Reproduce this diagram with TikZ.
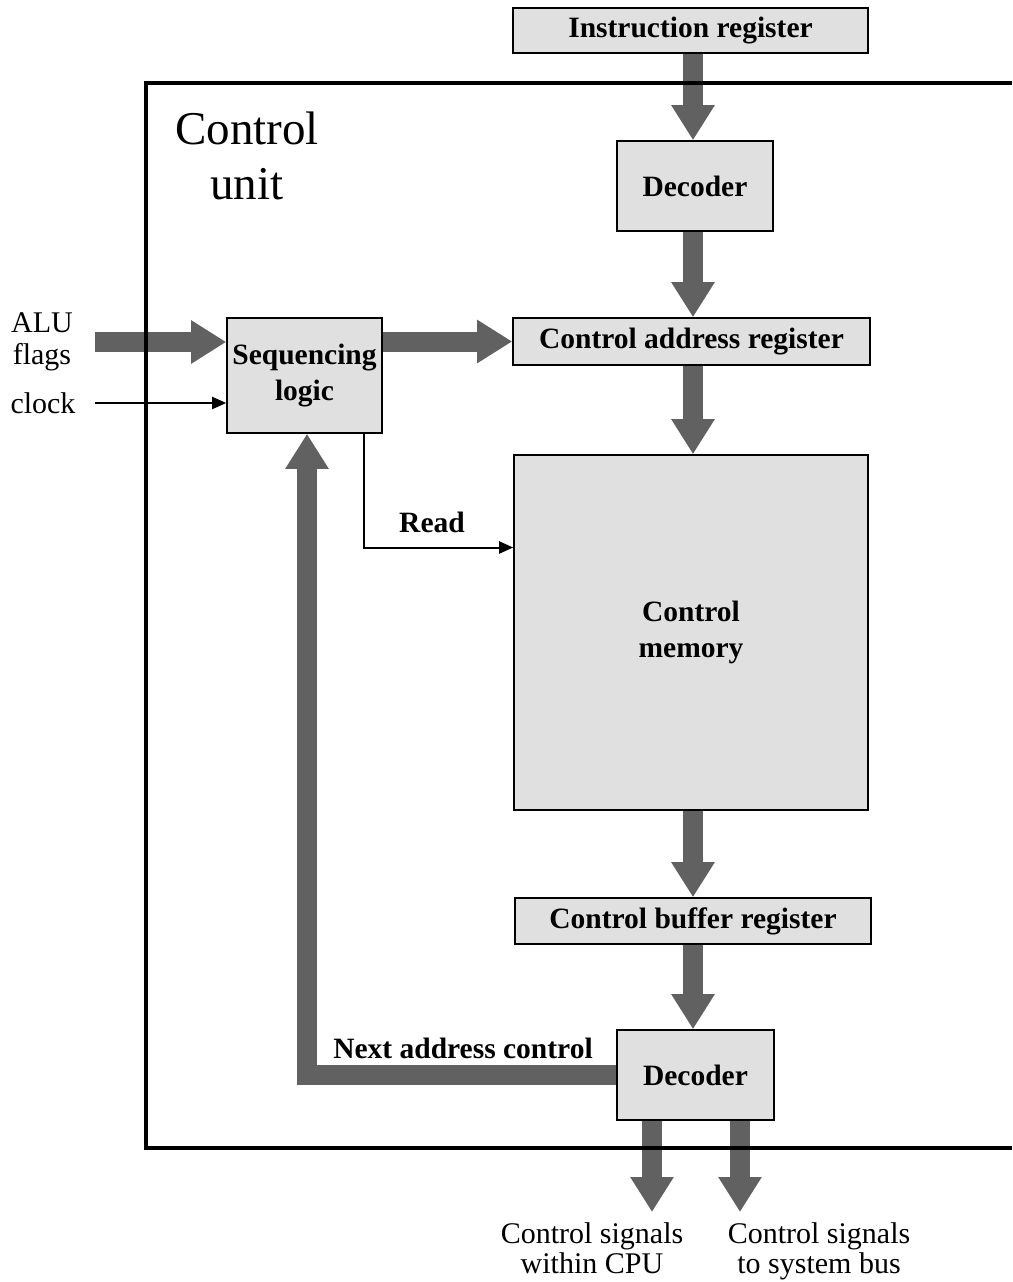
\documentclass[tikz,border=0pt]{standalone}
\usepackage{fontspec}
\setmainfont{Liberation Serif}
\usetikzlibrary{arrows.meta}

\tikzset{
  unitbox/.style={draw=black, line width=1.6pt, fill=black!12, inner sep=0pt,
    align=center, font=\fontsize{29.5}{36.5}\selectfont\bfseries},
  fat/.style={draw=black!62, line width=20pt,
    -{Triangle[width=41pt 0 0, length=35pt 0 0]}},
  thinarrow/.style={draw=black, line width=2pt,
    -{Triangle[width=12pt 0 0, length=14pt 0 0]}},
  outer/.style={align=center, font=\fontsize{30}{30.5}\selectfont},
  boldlabel/.style={font=\fontsize{29.5}{34}\selectfont\bfseries},
  frame/.style={draw=black, line width=4pt}
}

\begin{document}
\begin{tikzpicture}[x=1pt, y=-1pt]
\useasboundingbox (0,0) rectangle (1012,1282);

% blocks
\node[unitbox, minimum width=355pt, minimum height=45pt] (ir)  at (690.5,30.5) {Instruction register};
\node[unitbox, minimum width=156pt, minimum height=90pt] (dec1) at (695,186) {Decoder};
\node[unitbox, minimum width=357pt, minimum height=47pt] (car) at (691.5,341.5) {Control address register};
\node[unitbox, minimum width=155pt, minimum height=115pt] (seq) at (304.5,375.5) {Sequencing\\logic};
\node[unitbox, minimum width=354pt, minimum height=355pt] (cm)  at (691,632.5) {Control\\memory};
\node[unitbox, minimum width=356pt, minimum height=46pt] (cbr) at (693,921) {Control buffer register};
\node[unitbox, minimum width=157pt, minimum height=90pt] (dec2) at (695.5,1075) {Decoder};

% reference points
\coordinate (spine) at (693,0);
\coordinate (alu) at (95,342);
\coordinate (clk) at (95,403);
\coordinate (out1) at (652,1212);
\coordinate (out2) at (740,1212);

% wide data paths
\draw[fat] (ir.south -| spine) -- (dec1.north -| spine);
\draw[fat] (dec1.south -| spine) -- (car.north -| spine);
\draw[fat] (car.south -| spine) -- (cm.north -| spine);
\draw[fat] (cm.south -| spine) -- (cbr.north -| spine);
\draw[fat] (cbr.south -| spine) -- (dec2.north -| spine);
\draw[fat] (alu) -- (alu -| seq.west);
\draw[fat] (seq.east |- car.west) -- (car.west);
\draw[fat] (out1 |- dec2.south) -- (out1);
\draw[fat] (out2 |- dec2.south) -- (out2);
\draw[fat, line join=miter] (dec2.west) -| ([xshift=2.5pt]seq.south);

% control lines
\draw[thinarrow] (clk) -- (clk -| seq.west);
\draw[thinarrow] ([xshift=-19pt]seq.south east) |- ([yshift=85pt]cm.west);

% control unit boundary
\draw[frame] (1012,83) -- (146,83) -- (146,1148) -- (1012,1148);

% labels
\node[align=center, font=\fontsize{47}{55}\selectfont] (cu) at (247,156) {Control\\unit};
\node[outer] (alulbl) at (42,323) {ALU};
\node[outer] (flagslbl) at (42,357) {flags};
\node[outer] (clklbl) at (43,403) {clock};
\node[boldlabel] (readlbl) at (432,522) {Read};
\node[boldlabel] (nalbl) at (463,1048) {Next address control};
\node[outer, inner sep=1pt, anchor=north] (sig1) at (592,1221) {Control signals\\within CPU};
\node[outer, inner sep=1pt, anchor=north] (sig2) at (819,1221) {Control signals\\to system bus};
\end{tikzpicture}
\end{document}
